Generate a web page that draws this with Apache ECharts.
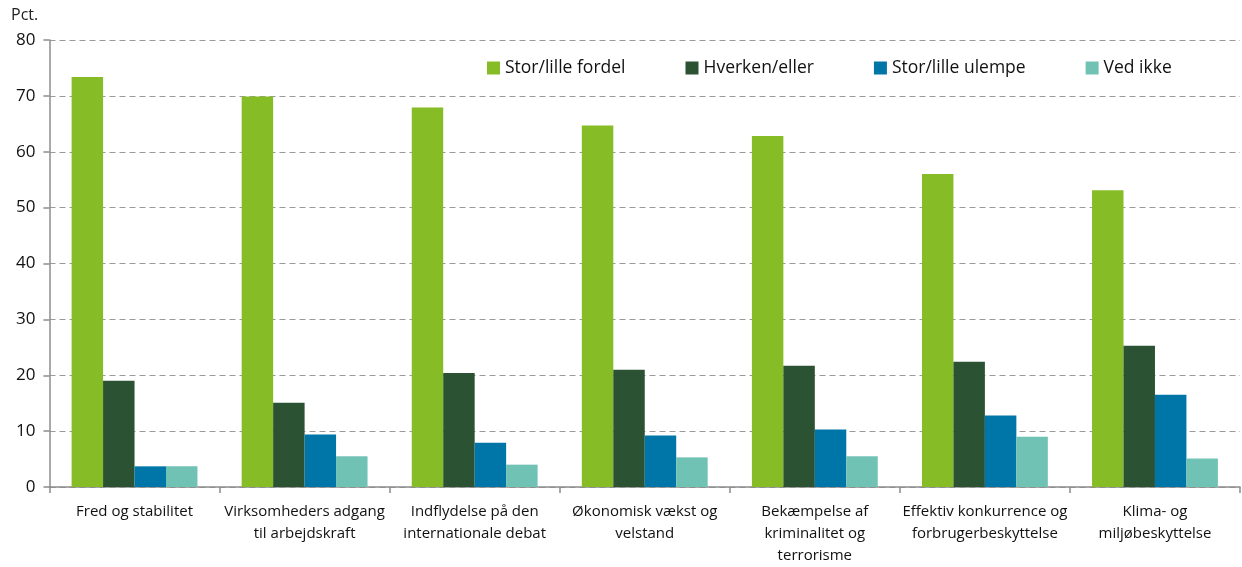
<!DOCTYPE html>
<html>
<head>
<meta charset="utf-8">
<script src="https://cdn.jsdelivr.net/npm/echarts@6/dist/echarts.min.js"></script>
<style>
  html, body { margin: 0; padding: 0; background: #fff; }
  #chart { width: 1242px; height: 567px; }
</style>
</head>
<body>
<div id="chart"></div>
<script>
// kategorier (linjeskift som i figuren)
var categories = [
  'Fred og stabilitet',
  'Virksomheders adgang\ntil arbejdskraft',
  'Indflydelse på den\ninternationale debat',
  'Økonomisk vækst og\nvelstand',
  'Bekæmpelse af\nkriminalitet og\nterrorisme',
  'Effektiv konkurrence og\nforbrugerbeskyttelse',
  'Klima- og\nmiljøbeskyttelse'
];
var seriesNames = ['Stor/lille fordel', 'Hverken/eller', 'Stor/lille ulempe', 'Ved ikke'];
var fordel  = [73.4, 69.9, 67.9, 64.7, 62.8, 56.0, 53.1];
var hverken = [19.0, 15.1, 20.4, 21.0, 21.7, 22.4, 25.3];
var ulempe  = [3.7, 9.4, 7.9, 9.2, 10.3, 12.8, 16.5];
var vedIkke = [3.7, 5.5, 4.0, 5.3, 5.5, 9.0, 5.1];
var colors = ['#86BC25', '#2C5234', '#0076A8', '#6FC2B4'];

var font = "'Open Sans', 'Noto Sans', sans-serif";
var chart = echarts.init(document.getElementById('chart'), null, { renderer: 'canvas' });

var values = [fordel, hverken, ulempe, vedIkke];
var series = values.map(function (v, i) {
  return {
    name: seriesNames[i],
    type: 'bar',
    data: v,
    barGap: '0%',
    barCategoryGap: '26%',
    itemStyle: { color: colors[i] }
  };
});

chart.setOption({
  animation: false,
  textStyle: { fontFamily: font },
  title: {
    text: 'Pct.',
    left: 6,
    top: 2,
    textStyle: { fontFamily: font, fontSize: 16, fontWeight: 'normal', color: '#222' }
  },
  legend: {
    data: seriesNames,
    left: 487,
    top: 59,
    padding: 0,
    itemGap: 60,
    itemWidth: 13,
    itemHeight: 13,
    icon: 'rect',
    textStyle: { fontFamily: font, fontSize: 17.5, color: '#111' }
  },
  grid: { left: 49.5, right: 2, top: 40, bottom: 77, containLabel: false },
  xAxis: {
    type: 'category',
    data: categories,
    axisLine: { lineStyle: { color: '#8c8c8c', width: 1.5 } },
    axisTick: { show: true, length: 6, alignWithLabel: false, lineStyle: { color: '#8c8c8c', width: 1.5 } },
    axisLabel: { fontFamily: font, fontSize: 15, color: '#111', lineHeight: 22, margin: 14, interval: 0 }
  },
  yAxis: {
    type: 'value',
    min: 0,
    max: 80,
    interval: 10,
    axisLine: { show: true, lineStyle: { color: '#8c8c8c', width: 1.5 } },
    axisTick: { show: true, length: 6, lineStyle: { color: '#8c8c8c', width: 1.5 } },
    axisLabel: { fontFamily: font, fontSize: 17, color: '#111', margin: 14 },
    splitLine: { show: true, lineStyle: { color: '#9a9a9a', type: [6, 4], width: 1.2 } }
  },
  series: series
});
</script>
</body>
</html>
